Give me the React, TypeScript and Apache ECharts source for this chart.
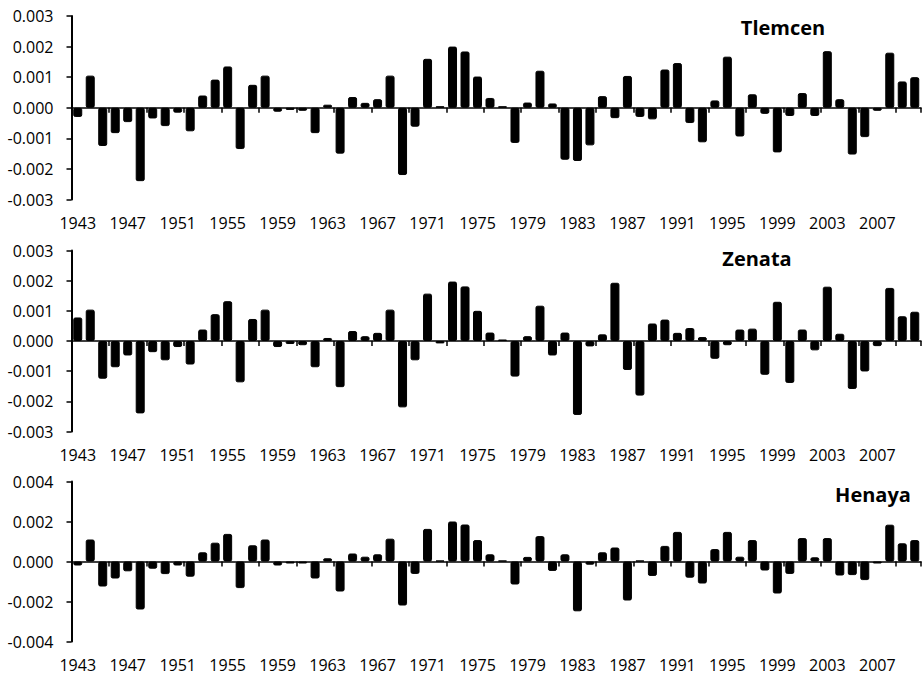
import React, { useEffect, useRef } from "react";
import * as echarts from "echarts";

const years = [
  "1943", "1944", "1945", "1946", "1947", "1948", "1949", "1950", "1951", "1952",
  "1953", "1954", "1955", "1956", "1957", "1958", "1959", "1960", "1961", "1962",
  "1963", "1964", "1965", "1966", "1967", "1968", "1969", "1970", "1971", "1972",
  "1973", "1974", "1975", "1976", "1977", "1978", "1979", "1980", "1981", "1982",
  "1983", "1984", "1985", "1986", "1987", "1988", "1989", "1990", "1991", "1992",
  "1993", "1994", "1995", "1996", "1997", "1998", "1999", "2000", "2001", "2002",
  "2003", "2004", "2005", "2006", "2007", "2008", "2009", "2010",
];

const tlemcen = [
  -0.0003, 0.00105, -0.00125, -0.00083, -0.00047, -0.0024, -0.00035, -0.0006, -0.00016, -0.00077,
  0.0004, 0.00092, 0.00135, -0.00135, 0.00075, 0.00105, -0.00013, -0.00007, -0.0001, -0.00083,
  0.0001, -0.0015, 0.00035, 0.00016, 0.00028, 0.00105, -0.0022, -0.00062, 0.0016, 0.00005,
  0.002, 0.00184, 0.00102, 0.00032, 0.00005, -0.00115, 0.00017, 0.00121, 0.00014, -0.0017,
  -0.00174, -0.00123, 0.00038, -0.00034, 0.00104, -0.0003, -0.00038, 0.00125, 0.00146, -0.0005,
  -0.00113, 0.00024, 0.00167, -0.00094, 0.00044, -0.0002, -0.00146, -0.00027, 0.00048, -0.00027,
  0.00185, 0.00028, -0.00153, -0.00096, -0.0001, 0.0018, 0.00086, 0.001,
];

const zenata = [
  0.00078, 0.00104, -0.00125, -0.00087, -0.00048, -0.0024, -0.00037, -0.00064, -0.0002, -0.00078,
  0.00038, 0.00089, 0.00132, -0.00137, 0.00073, 0.00104, -0.0002, -0.0001, -0.00014, -0.00087,
  0.0001, -0.00153, 0.00033, 0.00016, 0.00027, 0.00104, -0.0022, -0.00064, 0.00157, -0.00008,
  0.00197, 0.00181, 0.001, 0.00028, 0.00005, -0.00118, 0.00016, 0.00117, -0.00048, 0.00028,
  -0.00245, -0.00018, 0.00022, 0.00193, -0.00096, -0.00181, 0.00058, 0.00071, 0.00027, 0.00043,
  0.00013, -0.00059, -0.00014, 0.00038, 0.00041, -0.00112, 0.0013, -0.00139, 0.00038, -0.00031,
  0.0018, 0.00024, -0.00159, -0.00101, -0.00017, 0.00176, 0.00082, 0.00097,
];

const henaya = [
  -0.0002, 0.0011, -0.00125, -0.00085, -0.00049, -0.0024, -0.00036, -0.00063, -0.0002, -0.00076,
  0.00046, 0.00094, 0.00138, -0.00133, 0.00081, 0.0011, -0.0002, -0.0001, -0.0001, -0.00085,
  0.00016, -0.0015, 0.0004, 0.00024, 0.00036, 0.00114, -0.0022, -0.00062, 0.00163, 0.00005,
  0.002, 0.00185, 0.00107, 0.00036, 0.00005, -0.00115, 0.00023, 0.00127, -0.00047, 0.00036,
  -0.00249, -0.00016, 0.00046, 0.0007, -0.00195, 0.00005, -0.00072, 0.00078, 0.00148, -0.00081,
  -0.0011, 0.00062, 0.00148, 0.00024, 0.00107, -0.00045, -0.0016, -0.00062, 0.00117, 0.00021,
  0.00117, -0.0007, -0.00068, -0.00093, -0.0001, 0.00184, 0.00091, 0.00107,
];

const stationNames = ["Tlemcen", "Zenata", "Henaya"];
const yMins = [-0.003, -0.003, -0.004];
const yMaxs = [0.003, 0.003, 0.004];
const yIntervals = [0.001, 0.001, 0.002];

export default function App() {
  const ref = useRef<HTMLDivElement>(null);

  useEffect(() => {
    if (!ref.current) return;
    const chart = echarts.init(ref.current, undefined, { renderer: "svg" });
    const font = "'Open Sans', sans-serif";
    const seriesData = [tlemcen, zenata, henaya];

    const gridLeft = 71.5;
    const gridWidth = 849.5;
    const grids = [
      { left: gridLeft, width: gridWidth, top: 16, height: 183.5 },
      { left: gridLeft, width: gridWidth, top: 250.5, height: 181 },
      { left: gridLeft, width: gridWidth, top: 481.5, height: 160 },
    ];

    const xAxes: any[] = [];
    const yAxes: any[] = [];
    const series: any[] = [];
    for (let i = 0; i < 3; i++) {
      xAxes.push({
        type: "category",
        gridIndex: i,
        data: years,
        position: "bottom",
        axisLine: { show: true, onZero: true, lineStyle: { color: "#000", width: 1.5 } },
        axisTick: { show: true, length: 5, lineStyle: { color: "#000", width: 1.5 } },
        axisLabel: { show: false },
        splitLine: { show: false },
      });
      xAxes.push({
        type: "category",
        gridIndex: i,
        data: years,
        position: "bottom",
        axisLine: { show: false, onZero: false },
        axisTick: { show: false },
        splitLine: { show: false },
        axisLabel: {
          interval: 3,
          margin: 15,
          fontSize: 16,
          color: "#000",
          fontFamily: font,
        },
      });
      yAxes.push({
        type: "value",
        gridIndex: i,
        min: yMins[i],
        max: yMaxs[i],
        interval: yIntervals[i],
        axisLine: { show: true, lineStyle: { color: "#000", width: 2 } },
        axisTick: { show: true, length: 5, lineStyle: { color: "#000", width: 1.5 } },
        splitLine: { show: false },
        axisLabel: {
          margin: 18,
          fontSize: 16,
          color: "#000",
          fontFamily: font,
          formatter: (v: number) => (Math.abs(v) < 1e-9 ? 0 : v).toFixed(3),
        },
      });
      series.push({
        type: "bar",
        name: stationNames[i],
        xAxisIndex: i * 2,
        yAxisIndex: i,
        data: seriesData[i],
        barCategoryGap: "28%",
        itemStyle: { color: "#000", borderColor: "#000", borderWidth: 1, borderRadius: 1.5 },
      });
    }

    const titlePos = [
      [783, 27],
      [757, 258],
      [873, 494],
    ];

    chart.setOption({
      animation: false,
      backgroundColor: "#fff",
      grid: grids,
      xAxis: xAxes,
      yAxis: yAxes,
      series,
      graphic: stationNames.map((name, i) => ({
        type: "text",
        x: titlePos[i][0],
        y: titlePos[i][1],
        style: {
          text: name,
          font: `bold 20px ${font}`,
          fill: "#000",
          textAlign: "center",
          textVerticalAlign: "middle",
        },
      })),
    });

    return () => chart.dispose();
  }, []);

  return (
    <div
      ref={ref}
      style={{ position: "fixed", left: 0, top: 0, width: 922, height: 676, background: "#fff" }}
    />
  );
}
